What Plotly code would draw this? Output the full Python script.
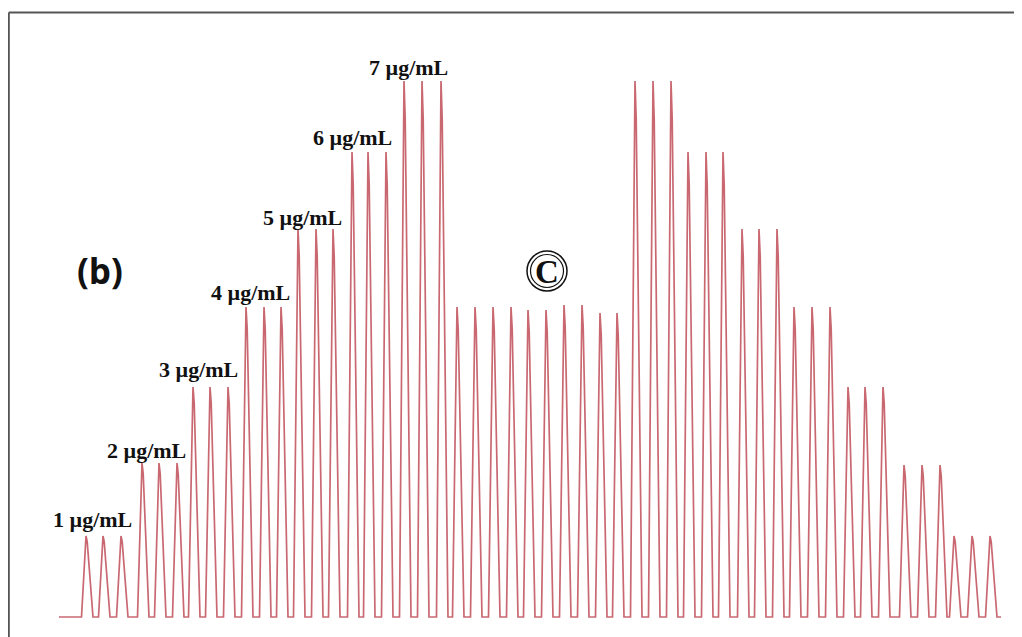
import plotly.graph_objects as go

# ---- data (peak times and peak intensities, arbitrary units) ----
peak_times = [86, 103, 121, 142, 159, 177, 193, 210, 228, 246, 264, 281,
              298, 316, 333, 352, 368, 386, 404, 422, 441,
              457, 475, 493, 511, 528, 546, 564, 582, 600, 617,
              635, 653, 671, 688, 706, 723, 742, 759, 777, 794, 812, 830,
              848, 865, 883, 904, 922, 940, 954, 972, 990]
peak_heights = [81, 81, 81, 154, 154, 154, 230, 230, 230, 310, 310, 310,
                388, 388, 388, 465, 465, 465, 536, 536, 536,
                310, 310, 310, 310, 307, 307, 312, 312, 304, 304,
                536, 536, 536, 465, 465, 465, 388, 388, 388, 310, 310, 310,
                230, 230, 230, 152, 152, 152, 81, 81, 81]
run_start = 59
run_end = 1001

label_texts = ["1 µg/mL", "2 µg/mL", "3 µg/mL", "4 µg/mL",
               "5 µg/mL", "6 µg/mL", "7 µg/mL"]
label_x = [92, 146, 198, 250, 302, 352, 408]
label_y = [98, 167, 248, 325, 400, 480, 550]

# ---- build the signal trace ----
xs = [run_start]
ys = [0]
for t, h in zip(peak_times, peak_heights):
    xs += [t - 4.5, t, t + 1.2, t + 7]
    ys += [0, h, h * 0.93, 0]
xs.append(run_end)
ys.append(0)

fig = go.Figure()
fig.add_trace(go.Scatter(
    x=xs, y=ys, mode="lines",
    line=dict(color="rgba(192,78,88,0.85)", width=1.7),
    hoverinfo="skip", showlegend=False))

annotations = []
for txt, lx, ly in zip(label_texts, label_x, label_y):
    annotations.append(dict(
        x=lx, y=ly, xref="x", yref="y", text="<b>%s</b>" % txt,
        showarrow=False, xanchor="center", yanchor="middle",
        font=dict(family="Liberation Serif", size=22, color="#111")))

annotations.append(dict(
    x=100, y=347, xref="x", yref="y", text="<b>(b)</b>", showarrow=False,
    xanchor="center", yanchor="middle",
    font=dict(family="Open Sans", size=35, color="#111")))

annotations.append(dict(
    x=547, y=345, xref="x", yref="y", text="<b>C</b>", showarrow=False,
    xanchor="center", yanchor="middle",
    font=dict(family="Liberation Serif", size=33, color="#111")))

shapes = [
    dict(type="circle", xref="x", yref="y", x0=527, x1=567, y0=326, y1=366,
         line=dict(color="#111", width=1.5)),
    dict(type="circle", xref="x", yref="y", x0=530.5, x1=563.5, y0=329.5, y1=362.5,
         line=dict(color="#111", width=1.2)),
    # frame (left and top edges visible)
    dict(type="line", xref="paper", yref="paper",
         x0=0.8 / 1022, x1=0.8 / 1022, y0=0, y1=1 - 4.5 / 637,
         line=dict(color="#555", width=2)),
    dict(type="line", xref="paper", yref="paper",
         x0=0.8 / 1022, x1=1, y0=1 - 4.5 / 637, y1=1 - 4.5 / 637,
         line=dict(color="#555", width=2)),
]

# the page places the figure 8px from the top-left corner; ranges compensate
fig.update_layout(
    width=1022, height=637,
    margin=dict(l=0, r=0, t=0, b=0),
    paper_bgcolor="white", plot_bgcolor="white",
    xaxis=dict(range=[8, 1030], visible=False, fixedrange=True),
    yaxis=dict(range=[-28, 609], visible=False, fixedrange=True),
    annotations=annotations, shapes=shapes, showlegend=False)

fig.write_html("out.html")
